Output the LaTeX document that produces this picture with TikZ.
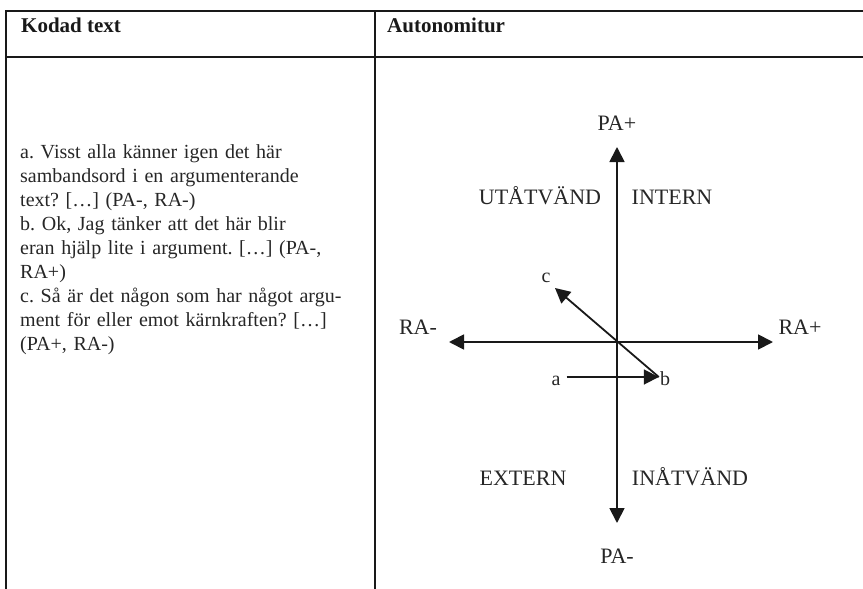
\documentclass[tikz,border=0pt]{standalone}
\usepackage{fontspec}
\setmainfont{Liberation Serif}
\usetikzlibrary{arrows.meta,positioning}

\tikzset{
    ruta/.style={line width=2pt, black!90, line join=miter},
    axel/.style={line width=1.8pt, black!90, -{Triangle[length=15pt,width=15pt]}},
    rubrik/.style={anchor=base west, inner sep=0pt, font=\fontsize{21}{25}\selectfont\bfseries, text=black!90},
    etikett/.style={anchor=base, inner sep=0pt, font=\fontsize{22}{26}\selectfont, text=black!85},
    bokstav/.style={inner sep=0pt, text height=16pt, text depth=0pt, font=\fontsize{20}{24}\selectfont, text=black!85},
}

\begin{document}
\begin{tikzpicture}[x=1pt,y=-1pt]
\useasboundingbox (0,0) rectangle (863,589);

% tabellen
\draw[ruta] (863,11) -- (6,11) -- (6,589);
\draw[ruta] (6,57) -- (863,57);
\draw[ruta] (375,11) -- (375,589);

\node[rubrik] (kodad) at (21,32) {Kodad text};
\node[rubrik] (autonomi) at (387,32) {Autonomitur};

\node[anchor=north west, inner sep=0pt, text width=345pt, align=left, text=black!85,
      font=\fontsize{20}{24.1}\selectfont\frenchspacing] (exempel) at (20,144)
    {a. Visst alla känner igen det här\\
     sambandsord i en argumenterande\\
     text? […] (PA-, RA-)\\
     b. Ok, Jag tänker att det här blir\\
     eran hjälp lite i argument. […] (PA-,\\
     RA+)\\
     c. Så är det någon som har något argu-\\
     ment för eller emot kärnkraften? […]\\
     (PA+, RA-)};

% axlarna
\coordinate (origo) at (617,342);
\coordinate (upp) at (617,147);
\coordinate (ned) at (617,523);
\coordinate (vanster) at (449,342);
\coordinate (hoger) at (773,342);

\draw[axel] (origo) -- (upp);
\draw[axel] (origo) -- (ned);
\draw[axel] (origo) -- (vanster);
\draw[axel] (origo) -- (hoger);

\node[etikett] (paplus) at (617,130) {PA+};
\node[etikett] (paminus) at (617,563) {PA-};
\node[etikett] (raminus) at (418,334) {RA-};
\node[etikett] (raplus) at (800,334) {RA+};

\node[etikett] (utat) at (540,204) {UTÅTVÄND};
\node[etikett] (intern) at (672,204) {INTERN};
\node[etikett] (extern) at (523,485) {EXTERN};
\node[etikett] (inat) at (690,485) {INÅTVÄND};

% exemplen a, b och c
\node[bokstav, inner xsep=6pt] (a) at (556,377) {a};
\node[bokstav, inner xsep=1pt] (b) at (665,377) {b};
\coordinate (ctopp) at (555,288);
\node[bokstav] (c) at (546,274) {c};

\draw[axel] (a) -- (b);
\draw[axel] (b.west) -- (ctopp);
\end{tikzpicture}
\end{document}
